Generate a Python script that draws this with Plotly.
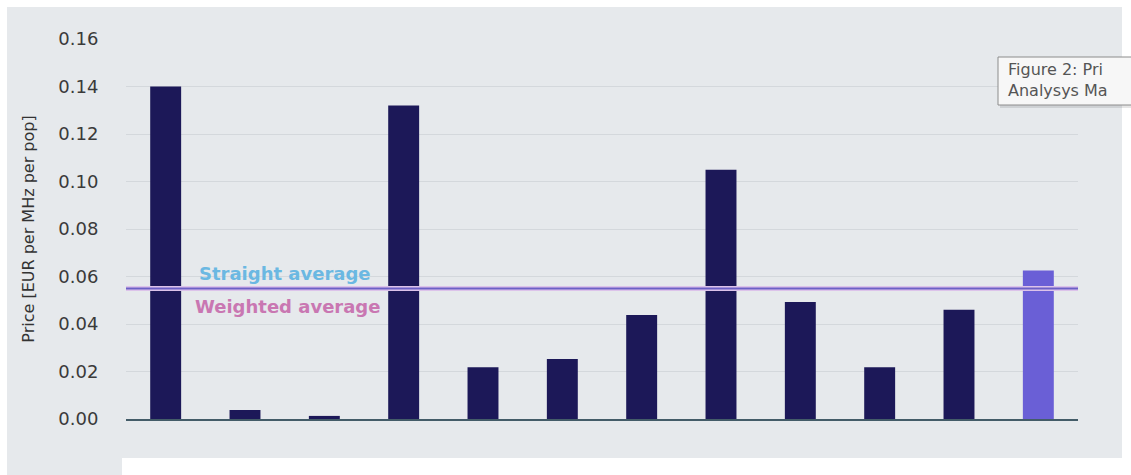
import plotly.graph_objects as go

# Spectrum award prices, EUR per MHz per pop
awards = ["Award 1", "Award 2", "Award 3", "Award 4", "Award 5", "Award 6",
          "Award 7", "Award 8", "Award 9", "Award 10", "Award 11", "Benchmark"]
prices = [0.140, 0.0038, 0.0013, 0.132, 0.0218, 0.0253,
          0.0438, 0.105, 0.0493, 0.0218, 0.046, 0.0625]
bar_colors = ["#1c1858"] * 11 + ["#6a5fd6"]

straight_average = 0.055
weighted_average = 0.055

y_ticks = [0.00, 0.02, 0.04, 0.06, 0.08, 0.10, 0.12, 0.14, 0.16]

W, H = 1131, 475
L, R, T, B = 126, 53, 39, 56
pw, ph = W - L - R, H - T - B


def px_x(x):
    return (x - L) / pw


def px_y(y):
    return (H - B - y) / ph


fig = go.Figure()

fig.add_trace(go.Bar(
    x=awards, y=prices, marker=dict(color=bar_colors, line=dict(width=0)),
    hoverinfo="x+y", showlegend=False,
))

# average lines across all categories
fig.add_trace(go.Scatter(
    x=[-0.5, len(awards) - 0.5], y=[weighted_average] * 2, mode="lines",
    line=dict(color="#dcc3ea", width=5), xaxis="x2", showlegend=False,
    hoverinfo="skip",
))
fig.add_trace(go.Scatter(
    x=[-0.5, len(awards) - 0.5], y=[straight_average] * 2, mode="lines",
    line=dict(color="#6c60c6", width=2), xaxis="x2", showlegend=False,
    hoverinfo="skip",
))

shapes = [
    # grey panel
    dict(type="rect", xref="paper", yref="paper", layer="below",
         x0=px_x(7), x1=px_x(1122), y0=px_y(458), y1=px_y(7),
         fillcolor="#e6e9ec", line=dict(width=0)),
    dict(type="rect", xref="paper", yref="paper", layer="below",
         x0=px_x(7), x1=px_x(122), y0=px_y(476), y1=px_y(457),
         fillcolor="#e6e9ec", line=dict(width=0)),
    # caption box shadow and box
    dict(type="rect", xref="paper", yref="paper", layer="above",
         x0=px_x(1000), x1=px_x(1140), y0=px_y(108), y1=px_y(60),
         fillcolor="rgba(0,0,0,0.10)", line=dict(width=0)),
    dict(type="rect", xref="paper", yref="paper", layer="above",
         x0=px_x(998), x1=px_x(1140), y0=px_y(105), y1=px_y(57),
         fillcolor="#f7f7f7", line=dict(color="#8c8c8c", width=1)),
]

annotations = [
    dict(text="<b>Straight average</b>", xref="paper", yref="paper",
         x=px_x(285), y=px_y(273), xanchor="center", yanchor="middle",
         showarrow=False,
         font=dict(family="DejaVu Sans", size=18, color="#6bb8e2")),
    dict(text="<b>Weighted average</b>", xref="paper", yref="paper",
         x=px_x(287), y=px_y(306), xanchor="center", yanchor="middle",
         showarrow=False,
         font=dict(family="DejaVu Sans", size=18, color="#c977b2")),
    dict(text="Figure 2: Pri<br>Analysys Ma", xref="paper", yref="paper",
         x=px_x(1006), y=px_y(58), xanchor="left", yanchor="top",
         align="left", showarrow=False,
         font=dict(family="DejaVu Sans", size=16, color="#555555")),
]

fig.update_layout(
    width=W, height=H,
    margin=dict(l=L, r=R, t=T, b=B),
    paper_bgcolor="white", plot_bgcolor="rgba(0,0,0,0)",
    bargap=0.61,
    font=dict(family="DejaVu Sans", color="#333333"),
    xaxis=dict(showticklabels=False, showgrid=False, zeroline=False,
               showline=True, linecolor="#435c68", linewidth=2,
               ticks=""),
    xaxis2=dict(overlaying="x", range=[-0.5, len(awards) - 0.5],
                visible=False),
    yaxis=dict(range=[0, 0.16], tickvals=y_ticks, tickformat=".2f",
               showgrid=True, gridcolor="#d4d8dc", gridwidth=1,
               zeroline=False, showline=False,
               ticks="outside", ticklen=23, tickcolor="rgba(0,0,0,0)",
               tickfont=dict(family="DejaVu Sans", size=18, color="#3a3a3a"),
               title=dict(text="Price [EUR per MHz per pop]",
                          font=dict(family="DejaVu Sans", size=16,
                                    color="#333333"),
                          standoff=19)),
    shapes=shapes,
    annotations=annotations,
)

fig.write_html("out.html")
